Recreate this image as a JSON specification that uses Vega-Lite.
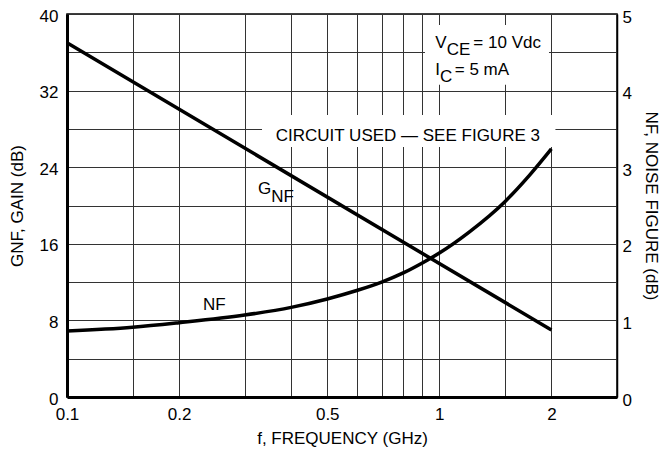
{
  "$schema": "https://vega.github.io/schema/vega-lite/v6.json",
  "width": 550,
  "height": 383,
  "autosize": {"type": "none"},
  "padding": {"left": 67, "top": 14, "right": 46, "bottom": 60},
  "background": "white",
  "config": {
    "font": "Liberation Sans, Arial, sans-serif",
    "view": {"stroke": "#000", "strokeWidth": 1.5},
    "axis": {
      "ticks": false,
      "labelColor": "#000",
      "labelFontSize": 17,
      "titleColor": "#000",
      "titleFontSize": 17,
      "titleFontWeight": "normal",
      "gridColor": "#333",
      "gridWidth": 1,
      "gridOpacity": 1,
      "domainColor": "#000",
      "labelOverlap": false,
      "labelFlush": false
    }
  },
  "encoding": {
    "x": {
      "field": "f",
      "type": "quantitative",
      "scale": {"type": "log", "domain": [0.1, 3], "nice": false},
      "axis": {
        "values": [0.1, 0.15, 0.2, 0.3, 0.4, 0.5, 0.6, 0.7, 0.8, 0.9, 1, 1.5, 2, 3],
        "labelExpr": "indexof([0.1, 0.2, 0.5, 1, 2], datum.value) >= 0 ? format(datum.value, '~g') : ''",
        "grid": true,
        "domainWidth": 3,
        "labelPadding": 9,
        "title": "f, FREQUENCY (GHz)",
        "titlePadding": 8
      }
    }
  },
  "layer": [
    {
      "encoding": {
        "y": {
          "field": "g",
          "type": "quantitative",
          "scale": {"domain": [0, 40], "nice": false},
          "axis": {
            "values": [0, 4, 8, 12, 16, 20, 24, 28, 32, 36, 40],
            "labelExpr": "datum.value % 8 === 0 ? datum.label : ''",
            "grid": true,
            "domainWidth": 3,
            "labelPadding": 9,
            "labelOffset": 2,
            "title": "GNF, GAIN (dB)",
            "titlePadding": 13
          }
        }
      },
      "layer": [
        {
          "data": {"values": [
            {"f": 0.915, "f2": 1.97, "g": 32.6, "g2": 38.85},
            {"f": 0.334, "f2": 2.05, "g": 26.1, "g2": 29.45}
          ]},
          "mark": {"type": "rect", "fill": "white", "stroke": null},
          "encoding": {
            "x2": {"field": "f2"},
            "y2": {"field": "g2"}
          }
        },
        {
          "data": {"values": [
            {"f": 0.1, "g": 37},
            {"f": 2, "g": 7}
          ]},
          "mark": {"type": "line", "color": "#000", "strokeWidth": 3.5}
        },
        {
          "data": {"values": [
            {"f": 0.975, "g": 36.45, "t": "V"},
            {"f": 1.047, "g": 35.7, "t": "CE"},
            {"f": 1.234, "g": 36.45, "t": "= 10 Vdc"},
            {"f": 0.975, "g": 33.63, "t": "I"},
            {"f": 1.004, "g": 32.93, "t": "C"},
            {"f": 1.1, "g": 33.63, "t": "= 5 mA"},
            {"f": 0.326, "g": 21.2, "t": "G"},
            {"f": 0.3535, "g": 20.37, "t": "NF"},
            {"f": 0.232, "g": 9.09, "t": "NF"}
          ]},
          "mark": {"type": "text", "align": "left", "baseline": "alphabetic", "fontSize": 17, "color": "#000"},
          "encoding": {
            "text": {"field": "t"}
          }
        },
        {
          "data": {"values": [
            {"f": 0.823, "g": 26.74, "t": "CIRCUIT USED — SEE FIGURE 3"}
          ]},
          "mark": {"type": "text", "align": "center", "baseline": "alphabetic", "fontSize": 17, "color": "#000"},
          "encoding": {
            "text": {"field": "t"}
          }
        }
      ]
    },
    {
      "data": {"values": [
        {"f": 0.1, "nf": 0.86},
        {"f": 0.15, "nf": 0.91},
        {"f": 0.2, "nf": 0.97},
        {"f": 0.3, "nf": 1.07},
        {"f": 0.4, "nf": 1.17},
        {"f": 0.5, "nf": 1.28},
        {"f": 0.6, "nf": 1.39},
        {"f": 0.7, "nf": 1.5},
        {"f": 0.8, "nf": 1.62},
        {"f": 0.9, "nf": 1.75},
        {"f": 1.0, "nf": 1.88},
        {"f": 1.2, "nf": 2.15},
        {"f": 1.5, "nf": 2.55},
        {"f": 1.75, "nf": 2.9},
        {"f": 2.0, "nf": 3.24}
      ]},
      "mark": {"type": "line", "color": "#000", "strokeWidth": 3.5, "interpolate": "monotone"},
      "encoding": {
        "y": {
          "field": "nf",
          "type": "quantitative",
          "scale": {"domain": [0, 5], "nice": false},
          "axis": {
            "orient": "right",
            "values": [0, 1, 2, 3, 4, 5],
            "grid": false,
            "domainWidth": 1.5,
            "labelPadding": 5,
            "labelOffset": 3,
            "title": "NF, NOISE FIGURE (dB)",
            "titlePadding": 10
          }
        }
      }
    }
  ],
  "resolve": {"scale": {"y": "independent"}}
}
